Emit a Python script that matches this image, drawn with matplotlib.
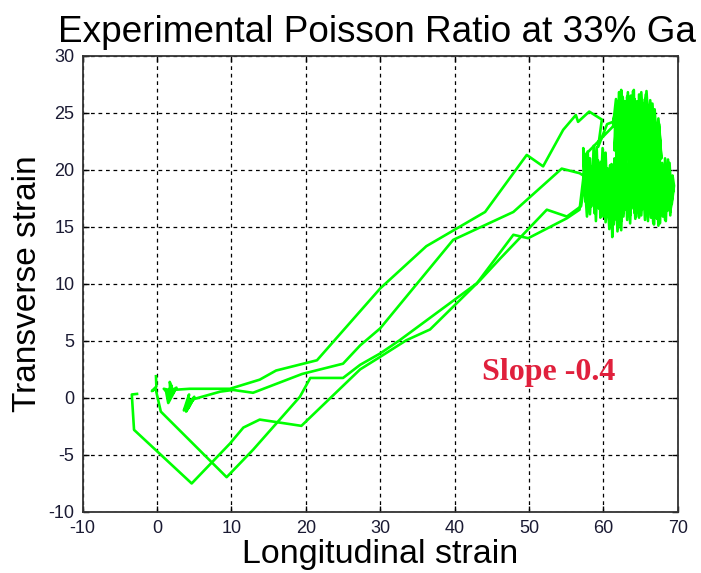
import numpy as np
import matplotlib.pyplot as plt

plt.rcParams['axes.unicode_minus'] = False

# Loading branch of the first cycle (lower V, then up to the plateau)
load1_x = [-2.7, -3.4, -3.1, 4.65, 7.3, 9.8, 11.6, 13.8, 19.4, 27.3, 30.0, 33.5, 36.7, 43.4, 46.1, 52.4, 55.1, 57.0]
load1_y = [0.35, 0.3, -2.8, -7.5, -5.7, -4.0, -2.6, -1.9, -2.45, 2.5, 3.6, 5.05, 6.0, 10.3, 12.2, 16.5, 15.9, 16.8]

# Noisy hold at the lower part of the plateau
plateau_low_x = [57.4, 57.3, 57.6, 57.8, 58.0, 58.2, 58.4, 58.6, 58.8, 59.0, 59.2, 59.4, 59.6, 59.8, 60.0, 60.2,
                 60.4, 60.6, 60.8, 61.0, 61.2, 61.4, 61.6, 61.8, 62.0, 62.2, 62.4, 62.6, 62.8, 63.0, 63.2, 63.4,
                 63.6, 63.8, 64.0, 64.2, 64.4, 64.6, 64.8, 65.0, 65.2, 65.4, 65.6, 65.8, 66.0, 66.2, 66.4, 66.6,
                 66.8, 67.0, 67.2, 67.4, 67.6, 67.8, 68.0, 68.2, 68.5, 68.8, 69.1, 69.4,
                 69.0, 68.6, 68.3, 67.9, 67.5, 67.1, 66.7, 66.3, 65.9, 65.5, 65.1, 64.7, 64.3, 63.9, 63.5, 63.1,
                 62.7, 62.3, 61.9, 61.5, 61.1, 60.7, 60.3, 59.9, 59.5, 59.1, 58.7, 58.3, 57.9, 57.5,
                 57.8, 58.1, 58.4, 58.7, 59.0, 59.3, 59.6, 59.9, 60.2, 60.5, 60.8, 61.1, 61.4, 61.7, 62.0, 62.3,
                 62.6, 62.9, 63.2, 63.5, 63.8, 64.1, 64.4, 64.7, 65.0, 65.3, 65.6, 65.9, 66.2, 66.5, 66.8, 67.1,
                 67.4, 67.7, 68.0, 68.3, 68.6, 68.9, 69.2, 69.5,
                 69.3, 69.0, 68.7, 68.4, 68.1, 67.8, 67.5, 67.2, 66.9, 66.6, 66.3, 66.0, 65.7, 65.4, 65.1, 64.8,
                 64.5, 64.2, 63.9, 63.6, 63.3, 63.0, 62.7, 62.4, 62.1, 61.8, 61.5, 61.2, 60.9, 60.6, 60.3, 60.0,
                 59.7, 59.4, 59.1, 58.8, 58.5, 58.2, 57.9, 57.6, 57.3]
plateau_low_y = [18.5, 21.9, 17.2, 20.4, 16.6, 21.0, 17.5, 19.8, 16.2, 21.2, 17.0, 20.6, 15.8, 19.2, 16.9, 21.4,
                 18.0, 20.1, 15.2, 19.5, 14.1, 18.2, 15.9, 21.5, 16.4, 20.3, 15.5, 19.0, 16.8, 21.8, 17.2, 20.0,
                 16.0, 19.4, 17.5, 21.0, 16.3, 19.8, 17.0, 22.0, 16.5, 20.2, 17.8, 21.3, 16.2, 19.6, 15.8, 20.5,
                 15.2, 19.1, 16.4, 21.0, 15.3, 18.8, 16.6, 20.2, 17.0, 19.9, 17.4, 18.3,
                 16.3, 19.0, 15.6, 20.6, 16.9, 19.8, 15.4, 21.2, 17.1, 20.8, 16.0, 19.3, 15.7, 21.6, 17.3, 20.4,
                 15.9, 19.7, 14.6, 20.9, 16.6, 18.9, 15.4, 20.2, 16.8, 21.0, 17.7, 19.4, 16.4, 18.8,
                 15.9, 19.6, 16.8, 22.1, 15.5, 20.8, 17.4, 21.9, 16.1, 19.0, 14.8, 20.5, 15.2, 19.9, 14.9, 21.2,
                 16.0, 20.7, 15.6, 21.7, 16.6, 20.1, 15.9, 21.4, 16.8, 19.4, 15.6, 20.9, 16.5, 21.6, 15.8, 20.3,
                 15.1, 19.7, 15.9, 21.0, 16.4, 20.6, 17.0, 18.6,
                 19.5, 16.0, 20.9, 15.5, 19.3, 16.9, 21.4, 15.7, 19.9, 16.3, 21.8, 15.5, 20.4, 16.9, 21.1, 15.8,
                 20.7, 16.2, 21.9, 15.3, 20.5, 16.5, 21.3, 14.7, 19.6, 15.6, 21.0, 15.0, 20.4, 16.3, 21.5, 15.9,
                 20.7, 16.6, 22.0, 17.0, 20.3, 16.1, 21.6, 17.8, 19.5]

# Unloading of the first cycle along the middle branch, ending in a small wobble near the origin
unload1_x = [56.8, 54.4, 47.9, 39.8, 30.0, 27.3, 25.0, 19.5, 12.9, 10.2, 8.5, 4.4,
             3.6, 4.3, 4.0, 4.9, 3.9, 4.6, 4.2, 5.0, 4.4]
unload1_y = [19.7, 20.1, 16.3, 13.85, 6.1, 4.6, 3.0, 2.1, 0.45, 0.7, 0.55, -0.2,
             -1.1, 0.3, -0.8, -0.1, -1.2, -0.3, -0.9, 0.1, -0.5]

# Loading branch of the second cycle (upper V), climbing into the upper plateau
load2_x = [-0.15, -0.1, -0.7, -0.2, 0.5, 9.35, 12.9, 19.2, 20.6, 25.0, 27.3, 30.0, 32.6, 43.0, 47.9, 49.9, 55.1,
           56.8, 57.7, 59.5, 61.3]
load2_y = [1.9, 1.0, 0.6, 0.8, -1.2, -6.95, -4.55, 0.1, 1.75, 1.75, 2.9, 3.9, 5.05, 10.05, 14.3, 14.0, 15.75,
           16.5, 21.4, 22.6, 23.8]

# Noisy hold at the upper part of the plateau
plateau_high_x = [61.7, 61.9, 62.1, 62.3, 62.5, 62.7, 62.9, 63.1, 63.3, 63.5, 63.7, 63.9, 64.1, 64.3, 64.5, 64.7,
                  64.9, 65.1, 65.3, 65.5, 65.7, 65.9, 66.1, 66.3, 66.5, 66.7, 66.9, 67.1, 67.3, 67.5, 67.7,
                  67.4, 67.0, 66.6, 66.2, 65.8, 65.4, 65.0, 64.6, 64.2, 63.8, 63.4, 63.0, 62.6, 62.2, 61.8, 61.5,
                  61.6, 61.8, 62.0, 62.2, 62.4, 62.6, 62.8, 63.0, 63.2, 63.4, 63.6, 63.8, 64.0, 64.2, 64.4, 64.6,
                  64.8, 65.0, 65.2, 65.4, 65.6, 65.8, 66.0, 66.2, 66.4, 66.6, 66.8, 67.0, 67.2, 67.4, 67.6, 67.8,
                  67.5, 67.2, 66.9, 66.6, 66.3, 66.0, 65.7, 65.4, 65.1, 64.8, 64.5, 64.2, 63.9, 63.6, 63.3, 63.0,
                  62.7, 62.4, 62.1, 61.8, 61.5, 61.3]
plateau_high_y = [26.2, 19.2, 26.8, 20.5, 25.6, 18.3, 26.0, 21.0, 24.8, 17.6, 26.5, 20.2, 27.0, 19.0, 25.2, 21.8,
                  26.3, 18.5, 24.6, 20.0, 26.6, 19.3, 25.0, 21.5, 24.3, 18.8, 23.9, 20.4, 22.8, 19.5, 22.0,
                  24.5, 21.2, 25.8, 22.4, 26.9, 22.0, 25.5, 23.0, 26.2, 22.5, 25.8, 23.2, 26.4, 22.8, 25.0, 21.7,
                  24.5, 20.1, 26.0, 21.5, 27.0, 19.6, 25.2, 18.9, 26.4, 21.9, 25.5, 18.6, 26.9, 21.2, 24.9, 19.7,
                  26.6, 20.6, 25.9, 18.9, 26.2, 21.7, 25.4, 19.9, 24.9, 20.8, 24.2, 19.4, 23.5, 20.6, 22.6, 21.0,
                  24.0, 21.9, 25.3, 22.9, 26.1, 23.3, 25.7, 23.6, 26.8, 23.9, 26.0, 23.4, 25.9, 22.7, 26.8, 24.1,
                  25.3, 23.5, 25.7, 22.6, 24.8, 24.2]

# Unloading of the second cycle along the top branch, ending in a small wobble near the origin
unload2_x = [60.5, 59.3, 59.8, 58.1, 56.6, 56.3, 54.6, 51.9, 49.7, 44.1, 36.2, 30.0, 21.5, 16.0, 13.8, 9.8, 4.4, 2.1,
             1.7, 1.8, 0.9, 2.3, 1.6, 1.9, 1.4, 2.6, 1.5, 1.2]
unload2_y = [24.0, 22.0, 24.4, 25.1, 24.2, 24.8, 23.5, 20.3, 21.3, 16.3, 13.3, 9.6, 3.3, 2.4, 1.6, 0.8, 0.8, 0.7,
             1.4, 0.2, 0.8, 0.6, -0.1, 1.1, 0.4, 0.9, -0.45, 0.6]

slope_label = "Slope -0.4"
x_ticks = np.arange(-10, 71, 10)
y_ticks = np.arange(-10, 31, 5)

cycle1_x = load1_x + plateau_low_x + unload1_x
cycle1_y = load1_y + plateau_low_y + unload1_y
cycle2_x = load2_x + plateau_high_x + unload2_x
cycle2_y = load2_y + plateau_high_y + unload2_y

fig = plt.figure(figsize=(7.01, 5.73), dpi=100)
ax = fig.add_axes([0.118, 0.1065, 0.8488, 0.7963])

line_color = '#00ff00'
ax.plot(cycle1_x, cycle1_y, color=line_color, linewidth=1.9)
ax.plot(cycle2_x, cycle2_y, color=line_color, linewidth=1.9)

ax.set_xlim(-10, 70)
ax.set_ylim(-10, 30)
ax.set_xticks(x_ticks)
ax.set_yticks(y_ticks)

# dashed black grid, inward ticks on every side
ax.grid(True, color='black', linestyle=(0, (3, 3)), linewidth=0.9)
ax.set_axisbelow(True)
ax.tick_params(direction='in', top=True, right=True, length=4, width=1,
               labelsize=13, pad=6, labelcolor='#1a1a33')
for spine in ax.spines.values():
    spine.set_linewidth(1.3)
    spine.set_color('#333333')

for lbl in ax.get_xticklabels() + ax.get_yticklabels():
    lbl.set_fontfamily('Liberation Sans')

title = ax.set_title('Experimental Poisson Ratio at 33% Ga', fontsize=26.6, family='Liberation Sans', pad=10)
title.set_x(0.494)
ax.set_xlabel('Longitudinal strain', fontsize=24.5, family='Liberation Sans', labelpad=1)
ax.set_ylabel('Transverse strain', fontsize=24, family='Liberation Sans', labelpad=4)

ax.text(52.7, 2.2, slope_label, color='#e0203c', fontsize=23, fontweight='bold',
        family='Liberation Serif', ha='center', va='center')

plt.savefig('out.png', dpi=100)
